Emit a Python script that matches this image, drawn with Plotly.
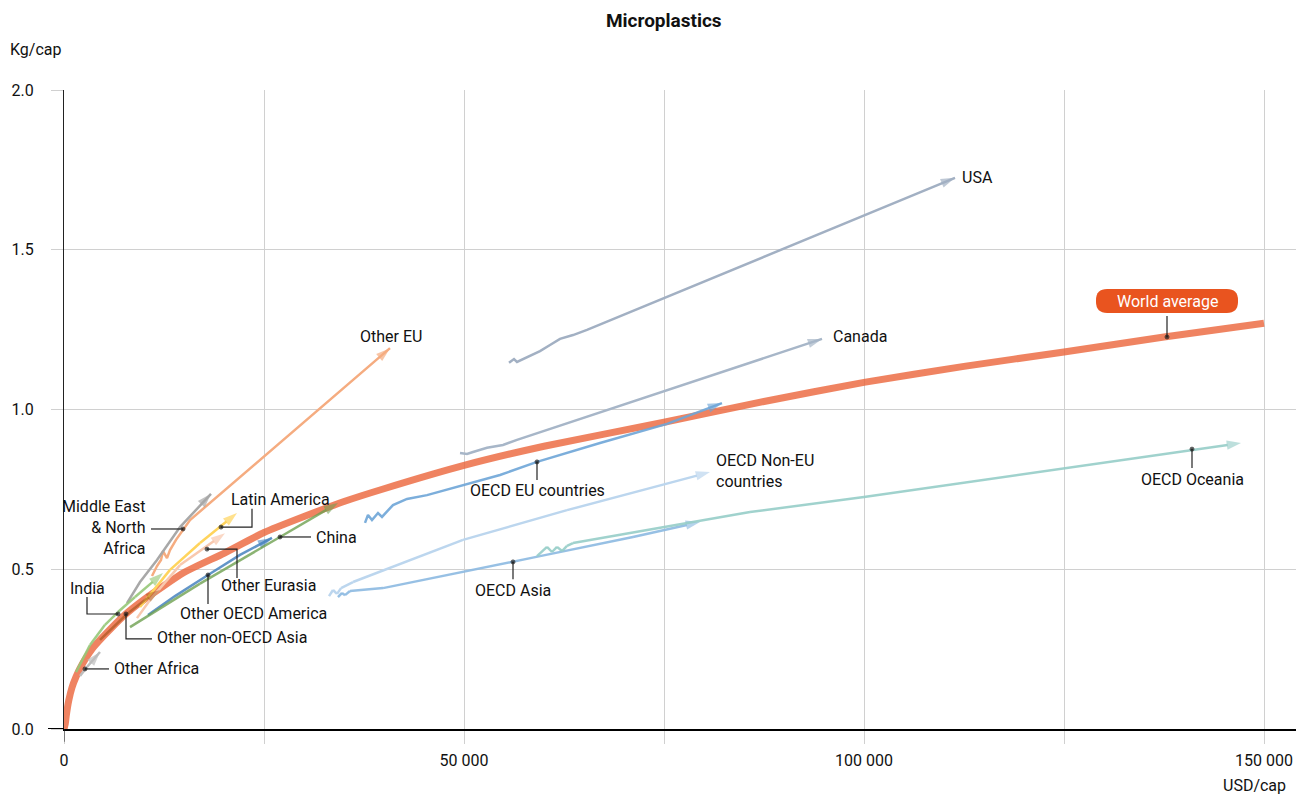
import plotly.graph_objects as go

# ---------------- data (USD/cap, Kg/cap) ----------------
world_x = [0, 150, 300, 600, 1000, 1500, 2000, 3500, 5000, 7500, 10000, 15000, 20000, 25000, 30000, 35000, 40000, 50000, 60000, 75000, 87500, 100000, 112500, 125000, 137500, 150000]
world_y = [0, 0.015, 0.045, 0.09, 0.13, 0.163, 0.19, 0.25, 0.292, 0.355, 0.405, 0.49, 0.55, 0.615, 0.665, 0.712, 0.752, 0.825, 0.885, 0.96, 1.025, 1.085, 1.135, 1.18, 1.227, 1.27]

usa_x = [55625, 56250, 56625, 57875, 59500, 60750, 62000, 63625, 65375, 111375]
usa_y = [1.146, 1.158, 1.149, 1.164, 1.183, 1.202, 1.221, 1.233, 1.249, 1.725]

canada_x = [49500, 50375, 51125, 52875, 54875, 56625, 94750]
canada_y = [0.864, 0.861, 0.867, 0.880, 0.889, 0.905, 1.221]

other_eu_x = [11000, 11625, 12125, 12375, 12875, 13250, 14000, 15750, 40750]
other_eu_y = [0.479, 0.510, 0.529, 0.557, 0.535, 0.560, 0.592, 0.654, 1.192]

mena_x = [7875, 9500, 11625, 14500, 18375]
mena_y = [0.394, 0.460, 0.529, 0.632, 0.736]

latam_x = [9500, 13250, 17000, 21625]
latam_y = [0.382, 0.498, 0.582, 0.676]

eurasia_x = [9125, 10750, 14500, 20125]
eurasia_y = [0.347, 0.404, 0.513, 0.613]

oecd_america_x = [10500, 13875, 18000, 22000, 26000]
oecd_america_y = [0.357, 0.416, 0.482, 0.545, 0.598]

china_x = [8250, 17000, 27000, 34250]
china_y = [0.319, 0.455, 0.601, 0.707]

india_x = [1500, 3250, 5125, 6750, 8875, 12375]
india_y = [0.178, 0.263, 0.326, 0.366, 0.413, 0.488]

non_oecd_asia_x = [4500, 7875, 10125, 12000]
non_oecd_asia_y = [0.279, 0.360, 0.404, 0.435]

other_africa_x = [2000, 2875, 4500]
other_africa_y = [0.166, 0.194, 0.241]

oecd_eu_x = [37625, 38000, 38500, 39250, 39750, 40500, 41125, 42875, 45375, 54500, 59125, 67000, 75375, 82250]
oecd_eu_y = [0.645, 0.670, 0.654, 0.676, 0.664, 0.685, 0.701, 0.720, 0.732, 0.795, 0.836, 0.895, 0.955, 1.020]

oecd_noneu_x = [33125, 33625, 34125, 34625, 36125, 49875, 62875, 80750]
oecd_noneu_y = [0.416, 0.435, 0.423, 0.441, 0.460, 0.592, 0.685, 0.804]

oecd_asia_x = [34250, 34750, 35125, 35750, 39875, 49875, 56125, 59500, 71125, 79500]
oecd_asia_y = [0.413, 0.426, 0.419, 0.432, 0.441, 0.491, 0.523, 0.541, 0.601, 0.648]

oecd_oceania_x = [59125, 60375, 61000, 61625, 62250, 62875, 63625, 85750, 100000, 125125, 147125]
oecd_oceania_y = [0.541, 0.570, 0.554, 0.570, 0.557, 0.573, 0.582, 0.679, 0.726, 0.817, 0.895]

x_tickvals = [0, 50000, 100000, 150000]
x_ticktext = ["0", "50 000", "100 000", "150 000"]
y_tickvals = [0, 0.5, 1.0, 1.5, 2.0]
y_ticktext = ["0.0", "0.5", "1.0", "1.5", "2.0"]

# ---------------- styles ----------------
FONT = "Roboto, Lato, sans-serif"
GRID = "#D0D0D0"

series = [
    ("USA", usa_x, usa_y, "#A2B0C3"),
    ("Canada", canada_x, canada_y, "#A7B6C8"),
    ("Other EU", other_eu_x, other_eu_y, "#F5AC80"),
    ("Middle East & North Africa", mena_x, mena_y, "#A8A8A8"),
    ("Latin America", latam_x, latam_y, "#FFD45C"),
    ("Other Eurasia", eurasia_x, eurasia_y, "#F8C8AE"),
    ("Other OECD America", oecd_america_x, oecd_america_y, "rgba(70,130,190,0.85)"),
    ("China", china_x, china_y, "rgba(110,160,80,0.8)"),
    ("India", india_x, india_y, "rgba(150,200,120,0.9)"),
    ("Other non-OECD Asia", non_oecd_asia_x, non_oecd_asia_y, "rgba(160,80,20,0.6)"),
    ("Other Africa", other_africa_x, other_africa_y, "#BDBDBD"),
    ("OECD EU countries", oecd_eu_x, oecd_eu_y, "rgba(110,165,215,0.9)"),
    ("OECD Non-EU countries", oecd_noneu_x, oecd_noneu_y, "#BCD6EE"),
    ("OECD Asia", oecd_asia_x, oecd_asia_y, "rgba(140,185,225,0.9)"),
    ("OECD Oceania", oecd_oceania_x, oecd_oceania_y, "rgba(150,205,200,0.9)"),
]

fig = go.Figure()

fig.add_trace(go.Scatter(x=world_x, y=world_y, mode="lines", line=dict(color="rgba(234,96,52,0.78)", width=7, shape="spline", smoothing=0.5), hoverinfo="skip", showlegend=False))

for name, xs, ys, col in series:
    n = len(xs)
    fig.add_trace(go.Scatter(
        x=xs, y=ys, mode="lines+markers", name=name, showlegend=False,
        line=dict(color=col, width=2.5),
        marker=dict(symbol=["circle"] * (n - 1) + ["arrow"], size=[0] * (n - 1) + [15],
                    angleref="previous", color=col, line=dict(width=0)),
    ))

# ---------------- labels and leader lines ----------------
labels = [
    ("USA", 112000, 1.725, "left"),
    ("Canada", 95875, 1.230, "left"),
    ("Other EU", 40875, 1.230, "center"),
    ("OECD EU countries", 59125, 0.745, "center"),
    ("OECD Non-EU<br>countries", 81250, 0.808, "left"),
    ("OECD Oceania", 141000, 0.782, "center"),
    ("OECD Asia", 56125, 0.432, "center"),
    ("Latin America", 20625, 0.717, "left"),
    ("Other Eurasia", 25500, 0.448, "center"),
    ("Other OECD America", 23625, 0.360, "center"),
    ("China", 31250, 0.598, "left"),
    ("Middle East<br>& North<br>Africa", 10500, 0.632, "right"),
    ("India", 2875, 0.441, "center"),
    ("Other non-OECD Asia", 11375, 0.285, "left"),
    ("Other Africa", 6000, 0.188, "left"),
]
for text, lx, ly, anchor in labels:
    fig.add_annotation(x=lx, y=ly, text=text, showarrow=False, xanchor=anchor, yanchor="middle",
                       align=anchor, font=dict(family=FONT, size=16, color="#111111"))

leaders = [
    ([59125, 59125], [0.779, 0.836]),
    ([141000, 141000], [0.817, 0.876]),
    ([56125, 56125], [0.469, 0.523]),
    ([23500, 23500, 19625], [0.689, 0.632, 0.632]),
    ([21625, 21625, 17875], [0.473, 0.563, 0.563]),
    ([18000, 18000], [0.391, 0.482]),
    ([30875, 27000], [0.601, 0.601]),
    ([10875, 14875], [0.626, 0.626]),
    ([2875, 2875, 6750], [0.413, 0.360, 0.360]),
    ([11000, 7750, 7750], [0.282, 0.282, 0.360]),
    ([5625, 2625], [0.188, 0.188]),
    ([137875, 137875], [1.293, 1.227]),
]
for xs, ys in leaders:
    n = len(xs)
    fig.add_trace(go.Scatter(x=xs, y=ys, mode="lines+markers", showlegend=False, hoverinfo="skip",
                             line=dict(color="#222222", width=1.2),
                             marker=dict(size=[0] * (n - 1) + [4], color="#111111")))

# World average rounded box
bx0, bx1, by0, by1 = 129000, 146750, 1.302, 1.377
rx, ry = 1400, 0.035
path = (f"M {bx0+rx},{by1} L {bx1-rx},{by1} Q {bx1},{by1} {bx1},{by1-ry} L {bx1},{by0+ry} "
        f"Q {bx1},{by0} {bx1-rx},{by0} L {bx0+rx},{by0} Q {bx0},{by0} {bx0},{by0+ry} "
        f"L {bx0},{by1-ry} Q {bx0},{by1} {bx0+rx},{by1} Z")
fig.add_shape(type="path", path=path, xref="x", yref="y", fillcolor="#E9541F", line=dict(width=0), layer="above")
fig.add_annotation(x=(bx0 + bx1) / 2, y=(by0 + by1) / 2, text="World average", showarrow=False,
                   font=dict(family=FONT, size=16, color="white"), xanchor="center", yanchor="middle")

# axis line extensions (x-axis line runs past the y-axis, y-axis line runs below the x-axis)
fig.add_shape(type="line", xref="paper", yref="y", x0=-0.013, x1=0, y0=0, y1=0, line=dict(color="black", width=2))
fig.add_shape(type="line", xref="x", yref="paper", x0=0, x1=0, y0=-0.02, y1=0, line=dict(color="#222222", width=1))

# ---------------- layout ----------------
# (the page body adds an 8px offset, so the figure is 8px smaller than the window)
fig.update_layout(
    width=1296, height=791,
    margin=dict(l=56, r=8, t=82, b=70),
    plot_bgcolor="white", paper_bgcolor="white",
    font=dict(family=FONT, size=16, color="#111111"),
    title=dict(text="<b>Microplastics</b>", x=0.506, xanchor="center", y=0.985, yanchor="middle",
               font=dict(family=FONT, size=19, color="#111111")),
    xaxis=dict(range=[0, 154000], tickvals=x_tickvals, ticktext=x_ticktext, automargin=False,
               showgrid=True, gridcolor=GRID, gridwidth=1,
               ticks="outside", ticklen=13, tickcolor=GRID, tickwidth=1,
               minor=dict(dtick=25000, showgrid=True, gridcolor=GRID, ticks="outside", ticklen=13, tickcolor=GRID),
               showline=True, linecolor="black", linewidth=2, zeroline=False,
               ticklabelstandoff=3, tickfont=dict(size=16)),
    yaxis=dict(range=[0, 2.0], tickvals=y_tickvals, ticktext=y_ticktext, automargin=False,
               showgrid=True, gridcolor=GRID, gridwidth=1,
               ticks="outside", ticklen=12, tickcolor=GRID, tickwidth=1,
               showline=True, linecolor="#222222", linewidth=1, zeroline=False,
               ticklabelstandoff=14, tickfont=dict(size=16)),
)

fig.add_annotation(text="Kg/cap", xref="paper", yref="paper", x=-0.0455, y=1.0626, xanchor="left", yanchor="middle",
                   showarrow=False, font=dict(family=FONT, size=16))
fig.add_annotation(text="USD/cap", xref="paper", yref="paper", x=0.9935, y=-0.0892, xanchor="right", yanchor="middle",
                   showarrow=False, font=dict(family=FONT, size=16))

fig.write_html("out.html")
